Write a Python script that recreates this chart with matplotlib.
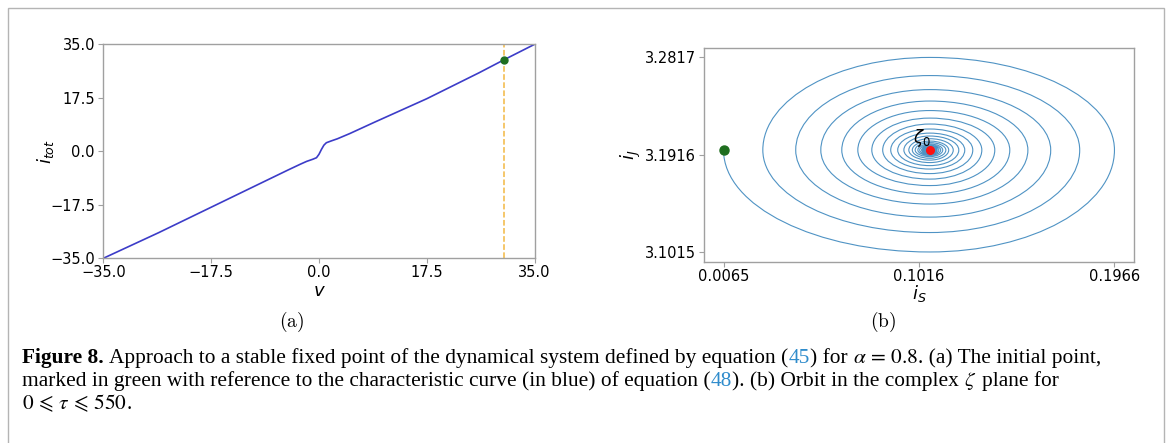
import matplotlib
matplotlib.use("Agg")
import matplotlib.pyplot as plt
from matplotlib.path import Path
from matplotlib.patches import PathPatch, Rectangle

# ---- (a) characteristic curve i_tot(v) ----
v_curve = [-35.0, -26.0, -17.5, -9.0, -5.0, -3.0, -2.0, -1.0, -0.4, 0.0,
           0.4, 0.8, 1.2, 2.0, 3.0, 5.0, 9.0, 17.5, 26.0, 30.0, 35.0]
i_curve = [-35.0, -26.6, -18.3, -10.0, -6.1, -4.2, -3.3, -2.6, -2.1, -1.0,
           0.6, 2.0, 2.8, 3.4, 4.1, 5.8, 9.5, 17.2, 25.7, 29.9, 35.0]
v_start, i_start = 30.0, 29.9
ticks_a = [-35.0, -17.5, 0.0, 17.5, 35.0]

# ---- (b) orbit in the zeta plane: extreme points of each turn ----
fixed_point = (0.1068, 3.1959)
orbit_left_x = [0.0065, 0.0256, 0.0416, 0.0538, 0.0640, 0.0718, 0.0786, 0.0839,
                0.0878, 0.0912, 0.0942, 0.0966, 0.0983, 0.0997, 0.1010, 0.1019,
                0.1028, 0.1034, 0.1040, 0.1045, 0.1049, 0.1052, 0.1054, 0.1057]
orbit_bottom_y = [3.1015, 3.1195, 3.1338, 3.1459, 3.1551, 3.1630, 3.1690, 3.1741,
                  3.1783, 3.1815, 3.1843, 3.1866, 3.1883, 3.1898, 3.1909, 3.1918,
                  3.1926, 3.1932, 3.1937, 3.1941, 3.1944, 3.1947, 3.1950, 3.1951]
orbit_right_x = [0.1966, 0.1797, 0.1656, 0.1545, 0.1457, 0.1384, 0.1321, 0.1277,
                 0.1238, 0.1209, 0.1182, 0.1160, 0.1146, 0.1131, 0.1121, 0.1112,
                 0.1104, 0.1099, 0.1094, 0.1089, 0.1086, 0.1083, 0.1080, 0.1078]
orbit_top_y = [3.2817, 3.2649, 3.2519, 3.2413, 3.2325, 3.2255, 3.2200, 3.2154,
               3.2116, 3.2089, 3.2064, 3.2042, 3.2028, 3.2015, 3.2004, 3.1996,
               3.1989, 3.1983, 3.1978, 3.1975, 3.1972, 3.1970, 3.1968, 3.1966]
ticks_bx = [0.0065, 0.1016, 0.1966]
ticks_by = [3.1015, 3.1916, 3.2817]

caption = [
    [("Figure 8.", "bold"),
     (" Approach to a stable fixed point of the dynamical system defined by equation (", None),
     ("45", "link"), (") for ", None), (r"$\alpha\,=\,0.8$", None),
     (". (a) The initial point,", None)],
    [("marked in green with reference to the characteristic curve (in blue) of equation (", None),
     ("48", "link"), ("). (b) Orbit in the complex ", None), (r"$\zeta$", None),
     (" plane for", None)],
    [(r"$0\,\leqslant\,\tau\,\leqslant\,550$", None), (".", None)],
]

W, H = 1166, 443
plt.rcParams["mathtext.fontset"] = "stix"
fig = plt.figure(figsize=(W / 100, H / 100), dpi=100)

# frame around the figure block
fig.patches.append(Rectangle((8 / W, -0.05), 1156 / W, 1.05 - 8 / H,
                             transform=fig.transFigure, fill=False,
                             edgecolor="#b4b4b4", lw=1.0))


def style_axes(ax):
    for s in ax.spines.values():
        s.set_color("#a0a0a0")
        s.set_linewidth(1.0)
    ax.tick_params(colors="#a0a0a0", labelcolor="black", labelsize=10.5,
                   length=3.5, width=0.8)
    ax.tick_params(axis="x", pad=1.5)
    ax.tick_params(axis="y", pad=2.5)


# ---- panel (a) ----
ax1 = fig.add_axes([103.3 / W, 1 - 258.3 / H, 431.3 / W, 214 / H])
ax1.plot(v_curve, i_curve, color="#3c3cc8", lw=1.2)
ax1.axvline(v_start, color="#f2b842", lw=1.1, ls="--")
ax1.plot([v_start], [i_start], "o", color="#1f6e1f", ms=5)
ax1.set_xlim(ticks_a[0], ticks_a[-1])
ax1.set_ylim(ticks_a[0], ticks_a[-1])
ax1.set_xticks(ticks_a)
ax1.set_yticks(ticks_a)
ax1.set_xticklabels([f"{t:.1f}".replace("-", "\u2212") for t in ticks_a])
ax1.set_yticklabels([f"{t:.1f}".replace("-", "\u2212") for t in ticks_a])
style_axes(ax1)
ax1.set_xlabel(r"$v$", fontsize=13, math_fontfamily="dejavusans")
ax1.set_ylabel(r"$i_{tot}$", fontsize=13, math_fontfamily="dejavusans")
ax1.xaxis.set_label_coords(0.5, -0.155)
ax1.yaxis.set_label_coords(-0.133, 0.5)
ax1.xaxis.label.set_va("center")
ax1.yaxis.label.set_va("center")

# ---- panel (b) ----
ax2 = fig.add_axes([704 / W, 1 - 261.7 / H, 430 / W, 214 / H])
x0, y0 = fixed_point
K = 0.5523
verts = [(orbit_left_x[0], y0)]
codes = [Path.MOVETO]


def side_to_pole(p, q):
    # from a left/right extreme (vertical tangent) to a bottom/top extreme
    return [(p[0], p[1] + K * (q[1] - p[1])), (q[0] + K * (p[0] - q[0]), q[1]), q]


def pole_to_side(p, q):
    # from a bottom/top extreme (horizontal tangent) to a left/right extreme
    return [(p[0] + K * (q[0] - p[0]), p[1]), (q[0], q[1] + K * (p[1] - q[1])), q]


n = len(orbit_left_x)
for k in range(n):
    L = (orbit_left_x[k], y0)
    B = (x0, orbit_bottom_y[k])
    R = (orbit_right_x[k], y0)
    T = (x0, orbit_top_y[k])
    segs = side_to_pole(L, B) + pole_to_side(B, R) + side_to_pole(R, T)
    if k + 1 < n:
        segs += pole_to_side(T, (orbit_left_x[k + 1], y0))
    else:
        segs += pole_to_side(T, (x0 - 0.0004, y0))
    verts += segs
    codes += [Path.CURVE4] * len(segs)
ax2.add_patch(PathPatch(Path(verts, codes), fill=False, edgecolor="#4f93c4", lw=0.8))
ax2.plot([orbit_left_x[0]], [y0], "o", color="#1f6e1f", ms=6.5, zorder=3)
ax2.plot([x0], [y0], "o", color="#ff1010", ms=5.5, zorder=3)
ax2.annotate(r"$\zeta_0$", (x0, y0), xytext=(1, 1), textcoords="offset points",
             ha="right", va="bottom", fontsize=12, math_fontfamily="dejavusans")
span_x = ticks_bx[-1] - ticks_bx[0]
span_y = ticks_by[-1] - ticks_by[0]
ax2.set_xlim(ticks_bx[0] - 0.05 * span_x, ticks_bx[-1] + 0.05 * span_x)
ax2.set_ylim(ticks_by[0] - 0.05 * span_y, ticks_by[-1] + 0.05 * span_y)
ax2.set_xticks(ticks_bx)
ax2.set_yticks(ticks_by)
ax2.set_xticklabels([f"{t:.4f}" for t in ticks_bx])
ax2.set_yticklabels([f"{t:.4f}" for t in ticks_by])
style_axes(ax2)
ax2.set_xlabel(r"$i_S$", fontsize=13, math_fontfamily="dejavusans")
ax2.set_ylabel(r"$i_J$", fontsize=13, math_fontfamily="dejavusans")
ax2.xaxis.set_label_coords(0.5, -0.15)
ax2.yaxis.set_label_coords(-0.17, 0.5)
ax2.xaxis.label.set_va("center")
ax2.yaxis.label.set_va("center")

# sub-figure labels
fig.text(291.6 / W, 1 - 321.7 / H, r"$\mathrm{(a)}$", ha="center", va="center",
         fontsize=14, math_fontfamily="cm")
fig.text(882.7 / W, 1 - 321.7 / H, r"$\mathrm{(b)}$", ha="center", va="center",
         fontsize=14, math_fontfamily="cm")

# ---- caption, drawn piece by piece ----
renderer = fig.canvas.get_renderer()
cap_kw = dict(family="Liberation Serif", fontsize=15.4)


def text_width(s, **kw):
    t = fig.text(0, 0, s, **kw)
    w = t.get_window_extent(renderer).width
    t.remove()
    return w


space_w = text_width("x x", **cap_kw) - text_width("xx", **cap_kw)
for row, parts in enumerate(caption):
    x = 22.0
    y = 1 - (363 + 23 * row) / H
    for s, kind in parts:
        lead = len(s) - len(s.lstrip(" "))
        trail = len(s) - len(s.rstrip(" "))
        x += lead * space_w
        body = s.strip(" ")
        kw = dict(cap_kw)
        if kind == "bold":
            kw["weight"] = "bold"
        if kind == "link":
            kw["color"] = "#2f8ccc"
        t = fig.text(x / W, y, body, va="baseline", **kw)
        x += t.get_window_extent(renderer).width + trail * space_w

fig.savefig("out.png", dpi=100)
